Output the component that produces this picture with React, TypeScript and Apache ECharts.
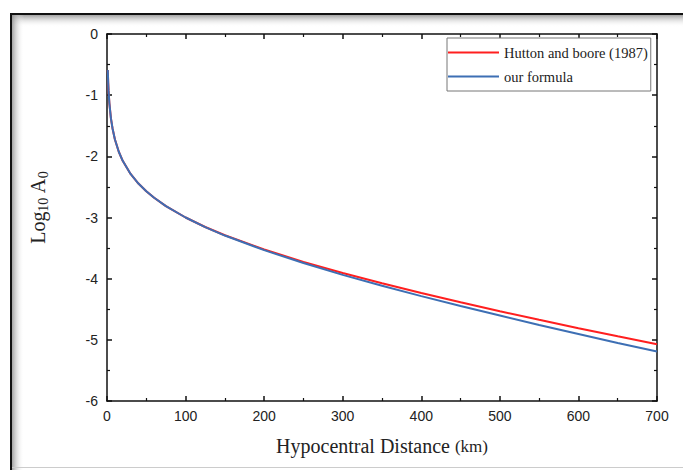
import React, { useEffect, useRef } from "react";
import * as echarts from "echarts";

const distances = [1, 1.5, 2, 3, 5, 7, 10, 15, 20, 30, 40, 50, 60, 75, 100, 125, 150, 200, 250, 300, 350, 400, 450, 500, 550, 600, 650, 700];
const huttonBoore = [-0.59, -0.79, -0.93, -1.13, -1.38, -1.54, -1.72, -1.925, -2.073, -2.288, -2.445, -2.571, -2.678, -2.814, -3.0, -3.155, -3.29, -3.523, -3.725, -3.908, -4.076, -4.235, -4.387, -4.532, -4.672, -4.809, -4.942, -5.072];
const ourFormula = [-0.59, -0.79, -0.93, -1.13, -1.38, -1.54, -1.72, -1.925, -2.073, -2.288, -2.445, -2.571, -2.678, -2.815, -3.0, -3.157, -3.295, -3.533, -3.745, -3.938, -4.116, -4.285, -4.447, -4.602, -4.757, -4.904, -5.052, -5.192];
const seriesNames = ["Hutton and boore (1987)", "our formula"];

export default function App() {
  const ref = useRef<HTMLDivElement>(null);
  useEffect(() => {
    if (!ref.current) return;
    const chart = echarts.init(ref.current, null, { renderer: "svg" });
    const sans = "Liberation Sans, Arial, sans-serif";
    const serif = "Liberation Serif, Times New Roman, serif";
    const axisCommon = {
      type: "value" as const,
      axisLine: { show: true, onZero: false, lineStyle: { color: "#111", width: 1.5 } },
      axisTick: { show: true, inside: true, length: 5, lineStyle: { color: "#111", width: 1.5 } },
      minorTick: { show: true, splitNumber: 2, length: 3, lineStyle: { color: "#111", width: 1.2 } },
      splitLine: { show: false },
    };
    chart.setOption({
      animation: false,
      backgroundColor: "#fff",
      grid: { left: 107, right: 26, top: 34, bottom: 69 },
      legend: {
        left: 447,
        top: 38,
        orient: "vertical",
        itemWidth: 51,
        itemHeight: 14,
        itemGap: 9,
        padding: [7, 3, 7, 0],
        borderColor: "#777",
        borderWidth: 1,
        backgroundColor: "#fff",
        itemStyle: { opacity: 0 },
        textStyle: { fontFamily: serif, fontSize: 14.5, color: "#222" },
        data: seriesNames,
      },
      xAxis: [
        {
          ...axisCommon,
          min: 0,
          max: 700,
          interval: 100,
          position: "bottom",
          name: "Hypocentral Distance {k|(km)}",
          nameLocation: "middle",
          nameGap: 35,
          nameTextStyle: {
            fontFamily: serif,
            fontSize: 20,
            color: "#222",
            rich: { k: { fontFamily: serif, fontSize: 17, color: "#222" } },
          },
          axisLabel: { fontFamily: sans, fontSize: 14, color: "#222", margin: 8 },
        },
        {
          ...axisCommon,
          min: 0,
          max: 700,
          interval: 100,
          position: "top",
          axisLabel: { show: false },
        },
      ],
      yAxis: [
        {
          ...axisCommon,
          min: -6,
          max: 0,
          interval: 1,
          position: "left",
          name: "Log{s|10} A{s|0}",
          nameLocation: "middle",
          nameRotate: 90,
          nameGap: 57,
          nameTextStyle: {
            fontFamily: serif,
            fontSize: 20,
            color: "#222",
            padding: [0, 0, 0, 20],
            rich: {
              s: { fontFamily: serif, fontSize: 14, color: "#222", padding: [10, 0, 0, 0] },
            },
          },
          axisLabel: { fontFamily: sans, fontSize: 14, color: "#222", margin: 9 },
        },
        {
          ...axisCommon,
          min: -6,
          max: 0,
          interval: 1,
          position: "right",
          axisLabel: { show: false },
        },
      ],
      graphic: [
        {
          type: "rect",
          left: 12,
          top: 15,
          shape: { width: 671, height: 12 },
          style: {
            fill: new echarts.graphic.LinearGradient(0, 0, 0, 1, [
              { offset: 0, color: "rgba(140,140,140,0.8)" },
              { offset: 1, color: "rgba(255,255,255,0)" },
            ]),
          },
          silent: true,
          z: -10,
        },
        {
          type: "rect",
          left: 12,
          top: 15,
          shape: { width: 12, height: 455 },
          style: {
            fill: new echarts.graphic.LinearGradient(0, 0, 1, 0, [
              { offset: 0, color: "rgba(140,140,140,0.8)" },
              { offset: 1, color: "rgba(255,255,255,0)" },
            ]),
          },
          silent: true,
          z: -10,
        },
        {
          type: "rect",
          left: 10,
          top: 13,
          shape: { width: 673, height: 2 },
          style: { fill: "#111" },
          silent: true,
        },
        {
          type: "rect",
          left: 10,
          top: 13,
          shape: { width: 2, height: 457 },
          style: { fill: "#111" },
          silent: true,
        },
        {
          type: "rect",
          left: 12,
          top: 467,
          shape: { width: 671, height: 1 },
          style: { fill: "#ccc" },
          silent: true,
        },
      ],
      series: [
        {
          name: seriesNames[0],
          type: "line",
          symbol: "none",
          data: distances.map((d, i) => [d, huttonBoore[i]]),
          lineStyle: { color: "#ff1f1f", width: 2 },
          itemStyle: { color: "#ff1f1f" },
        },
        {
          name: seriesNames[1],
          type: "line",
          symbol: "none",
          data: distances.map((d, i) => [d, ourFormula[i]]),
          lineStyle: { color: "#3d6fb4", width: 2 },
          itemStyle: { color: "#3d6fb4" },
        },
      ],
    });
    return () => chart.dispose();
  }, []);
  return <div ref={ref} style={{ position: "fixed", left: 0, top: 0, width: 683, height: 470 }} />;
}
